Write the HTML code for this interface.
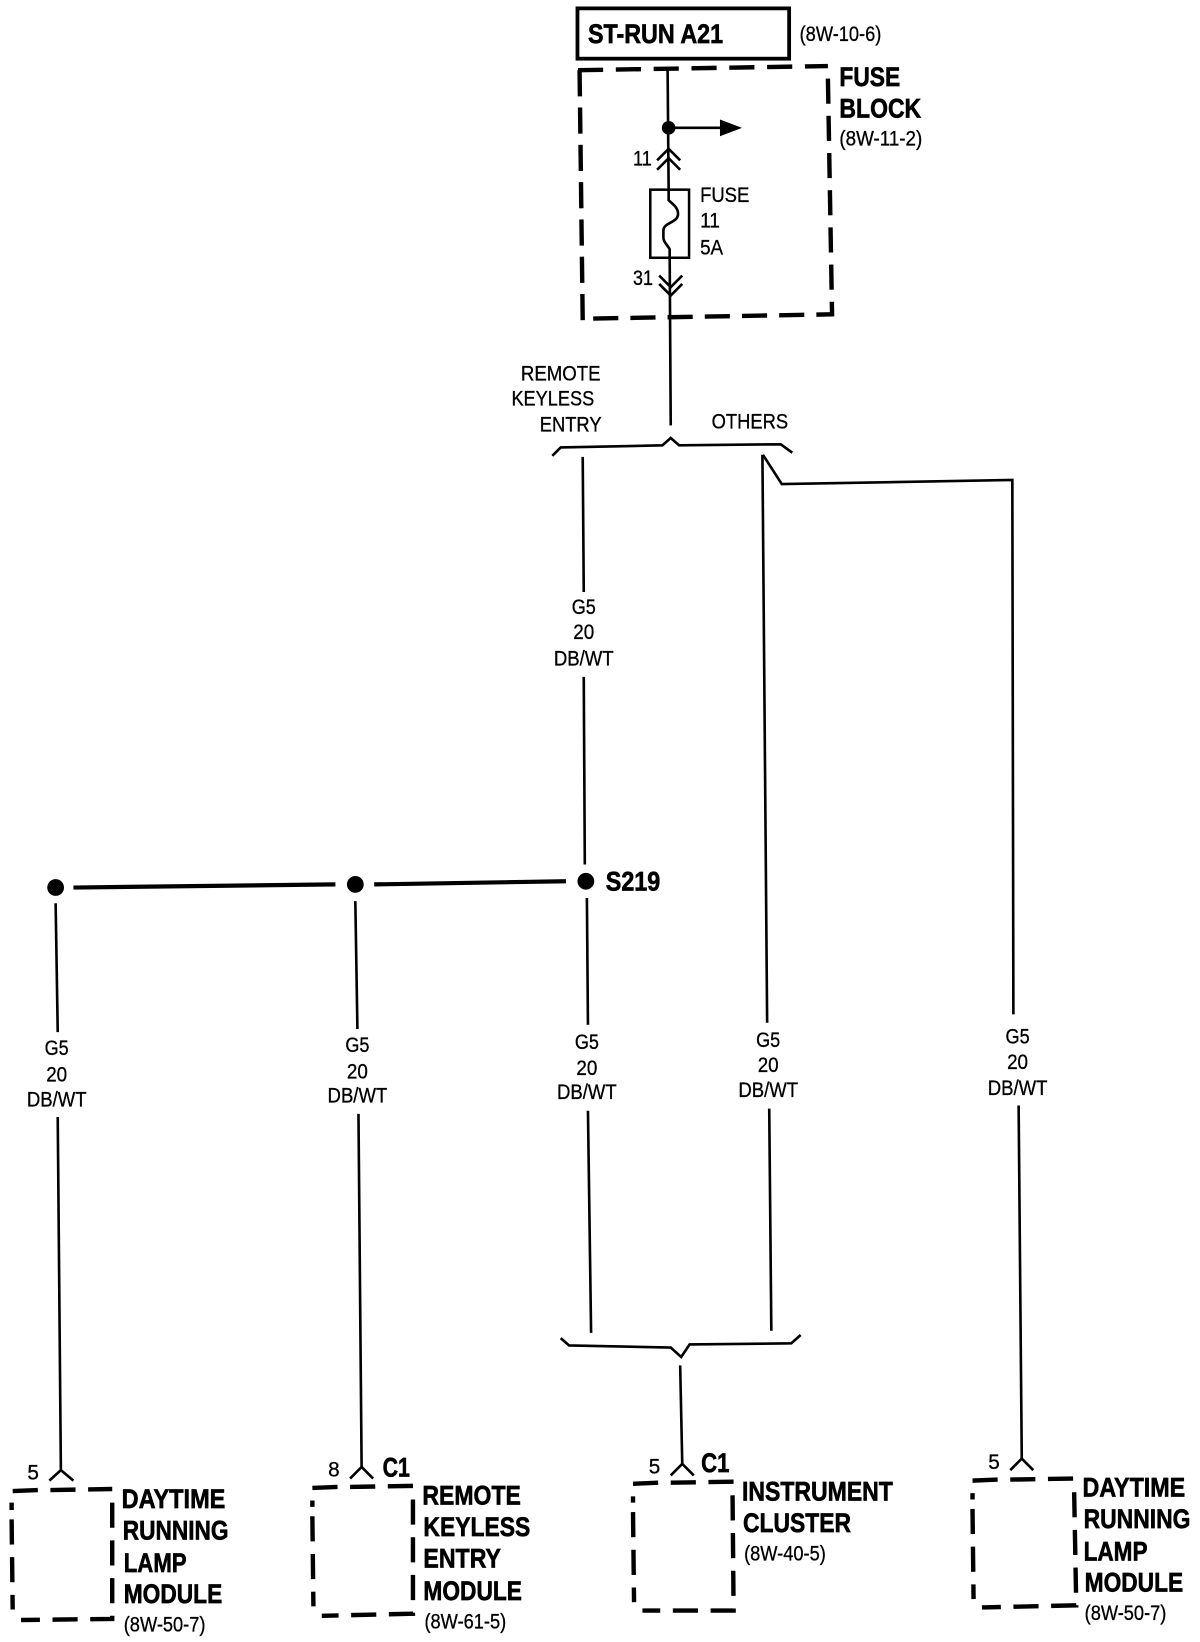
<!DOCTYPE html>
<html><head><meta charset="utf-8"><title>ST-RUN A21 wiring diagram</title>
<style>
html,body{margin:0;padding:0;background:#fff;width:1200px;height:1642px;overflow:hidden}
svg{display:block}
text{font-family:"Liberation Sans",sans-serif;fill:#000}
.b{font-weight:bold;font-size:26px;stroke:#000;stroke-width:.6}
.n{font-size:20px;stroke:#000;stroke-width:.3}
.w{fill:none;stroke:#000;stroke-width:2.5}
.d{fill:none;stroke:#000;stroke-width:4.2;stroke-dasharray:24 12}
</style></head><body>
<svg width="1200" height="1642" viewBox="0 0 1145 1567" xmlns="http://www.w3.org/2000/svg">
<rect x="551" y="8" width="202" height="48" fill="none" stroke="#000" stroke-width="3.6"/>
<text class="b" x="561" y="41" textLength="129" lengthAdjust="spacingAndGlyphs">ST-RUN A21</text>
<text class="n" x="763" y="39" textLength="78" lengthAdjust="spacingAndGlyphs">(8W-10-6)</text>

<path class="d" style="stroke-dasharray:24 12.100" d="M551.500 67 L790 63"/>
<path class="d" style="stroke-dasharray:25 10.600" d="M553 67 L556 306"/>
<path class="d" style="stroke-dasharray:24 11.500" d="M790 75 L794 302"/>
<path class="d" style="stroke-dasharray:24 11.500" d="M566 304 L794 300"/>
<text class="b" x="801" y="82" textLength="58" lengthAdjust="spacingAndGlyphs">FUSE</text>
<text class="b" x="801" y="112" textLength="78" lengthAdjust="spacingAndGlyphs">BLOCK</text>
<text class="n" x="801" y="139" textLength="79" lengthAdjust="spacingAndGlyphs">(8W-11-2)</text>

<path class="w" d="M637 65 L638 181"/>
<circle cx="638" cy="122" r="6.5"/>
<path class="w" d="M638 122 L692 122"/>
<path d="M687 114 L708 122 L687 130 Z"/>
<path class="w" d="M627 153 L638 142 L649 153 M627 162 L638 151 L649 162"/>
<text class="n" x="604" y="158" textLength="18" lengthAdjust="spacingAndGlyphs">11</text>
<rect x="620.500" y="181" width="37" height="65" fill="none" stroke="#000" stroke-width="2.400"/>
<path class="w" d="M638 181 L638 191 C642 195 647 198 647 204 C647 213 633 212 633 220 L633 227 C633 231 637 234 639 238 L639 246"/>
<text class="n" x="668" y="193" textLength="47" lengthAdjust="spacingAndGlyphs">FUSE</text>
<text class="n" x="668" y="217" textLength="19" lengthAdjust="spacingAndGlyphs">11</text>
<text class="n" x="668" y="243" textLength="22" lengthAdjust="spacingAndGlyphs">5A</text>
<path class="w" d="M639 246 L640 406"/>
<path class="w" d="M629 263 L640 274 L651 263 M629 271 L640 282 L651 271"/>
<text class="n" x="604" y="272" textLength="19" lengthAdjust="spacingAndGlyphs">31</text>

<text class="n" x="497" y="363" textLength="76" lengthAdjust="spacingAndGlyphs">REMOTE</text>
<text class="n" x="488" y="387" textLength="79" lengthAdjust="spacingAndGlyphs">KEYLESS</text>
<text class="n" x="515" y="412" textLength="59" lengthAdjust="spacingAndGlyphs">ENTRY</text>
<text class="n" x="679" y="409" textLength="73" lengthAdjust="spacingAndGlyphs">OTHERS</text>
<path class="w" d="M527 435 L535 427 L632 425 L640 418 L648 425 L745 424 L756 432"/>

<path class="w" d="M556 436 L557 565"/>
<text class="n" x="557" y="586" text-anchor="middle" textLength="23" lengthAdjust="spacingAndGlyphs">G5</text>
<text class="n" x="557" y="610" text-anchor="middle" textLength="20" lengthAdjust="spacingAndGlyphs">20</text>
<text class="n" x="557" y="635" text-anchor="middle" textLength="57" lengthAdjust="spacingAndGlyphs">DB/WT</text>
<path class="w" d="M557 646 L558 825"/>

<path class="w" d="M727.500 434 L732 976"/>
<path class="w" d="M728 434 L746 462 L966 458 L967 968"/>

<circle cx="53" cy="847" r="8"/><circle cx="339" cy="844" r="8"/><circle cx="559" cy="841" r="8"/>
<path fill="none" stroke="#000" stroke-width="4" d="M70 847 L320 844 M357 844 L540 841"/>
<text class="b" x="578" y="850" textLength="52" lengthAdjust="spacingAndGlyphs">S219</text>

<path class="w" d="M53 862 L55 985 M339 860 L341 982 M560 857 L561 978"/>

<text class="n" x="54" y="1007" text-anchor="middle" textLength="23" lengthAdjust="spacingAndGlyphs">G5</text>
<text class="n" x="54" y="1032" text-anchor="middle" textLength="20" lengthAdjust="spacingAndGlyphs">20</text>
<text class="n" x="54" y="1056" text-anchor="middle" textLength="57" lengthAdjust="spacingAndGlyphs">DB/WT</text>
<text class="n" x="341" y="1004" text-anchor="middle" textLength="23" lengthAdjust="spacingAndGlyphs">G5</text>
<text class="n" x="341" y="1029" text-anchor="middle" textLength="20" lengthAdjust="spacingAndGlyphs">20</text>
<text class="n" x="341" y="1052" text-anchor="middle" textLength="57" lengthAdjust="spacingAndGlyphs">DB/WT</text>
<text class="n" x="560" y="1001" text-anchor="middle" textLength="23" lengthAdjust="spacingAndGlyphs">G5</text>
<text class="n" x="560" y="1026" text-anchor="middle" textLength="20" lengthAdjust="spacingAndGlyphs">20</text>
<text class="n" x="560" y="1049" text-anchor="middle" textLength="57" lengthAdjust="spacingAndGlyphs">DB/WT</text>
<text class="n" x="733" y="999" text-anchor="middle" textLength="23" lengthAdjust="spacingAndGlyphs">G5</text>
<text class="n" x="733" y="1023" text-anchor="middle" textLength="20" lengthAdjust="spacingAndGlyphs">20</text>
<text class="n" x="733" y="1047" text-anchor="middle" textLength="57" lengthAdjust="spacingAndGlyphs">DB/WT</text>
<text class="n" x="971" y="996" text-anchor="middle" textLength="23" lengthAdjust="spacingAndGlyphs">G5</text>
<text class="n" x="971" y="1020" text-anchor="middle" textLength="20" lengthAdjust="spacingAndGlyphs">20</text>
<text class="n" x="971" y="1045" text-anchor="middle" textLength="57" lengthAdjust="spacingAndGlyphs">DB/WT</text>

<path class="w" d="M55 1066 L58 1403 M342 1063 L345 1400 M561 1060 L564 1272 M734 1058 L736 1270 M972 1055 L975 1392 M649 1303 L651 1397"/>
<path class="w" d="M535 1277 L543 1284 L640 1286 L650 1295 L658 1283 L755 1282 L764 1274"/>

<path class="w" d="M47 1413 L58 1403 L70 1413 M334 1411 L345 1400 L356 1411 M640 1408 L651 1397 L662 1408 M964 1403 L975 1392 L986 1403"/>
<text class="n" x="26" y="1412" textLength="11" lengthAdjust="spacingAndGlyphs">5</text>
<text class="n" x="313" y="1409" textLength="11" lengthAdjust="spacingAndGlyphs">8</text>
<text class="b" x="365" y="1409" textLength="26" lengthAdjust="spacingAndGlyphs">C1</text>
<text class="n" x="619" y="1406" textLength="11" lengthAdjust="spacingAndGlyphs">5</text>
<text class="b" x="669" y="1405" textLength="27" lengthAdjust="spacingAndGlyphs">C1</text>
<text class="n" x="943" y="1402" textLength="11" lengthAdjust="spacingAndGlyphs">5</text>

<path class="d" d="M36 1422 L11 1423 L11 1441"/>
<path class="d" d="M48 1422 L107 1421"/>
<path class="d" d="M107 1434 L107 1545 L20 1546"/>
<path class="d" d="M11 1450 L12 1536"/>

<path class="d" d="M322 1419 L298 1420 L298 1438"/>
<path class="d" d="M334 1419 L394 1418"/>
<path class="d" d="M394 1431 L394 1540 L307 1542"/>
<path class="d" d="M298 1447 L299 1533"/>

<path class="d" d="M628 1415 L604 1416 L604 1434"/>
<path class="d" d="M640 1415 L700 1414"/>
<path class="d" d="M699 1427 L700 1537 L613 1537"/>
<path class="d" d="M604 1443 L605 1529"/>

<path class="d" d="M952 1412 L928 1413 L928 1431"/>
<path class="d" d="M964 1412 L1026 1411"/>
<path class="d" d="M1025 1424 L1027 1532 L937 1534"/>
<path class="d" d="M928 1440 L929 1526"/>

<text class="b" x="116" y="1439" textLength="99" lengthAdjust="spacingAndGlyphs">DAYTIME</text>
<text class="b" x="117" y="1469" textLength="101" lengthAdjust="spacingAndGlyphs">RUNNING</text>
<text class="b" x="118" y="1500" textLength="60" lengthAdjust="spacingAndGlyphs">LAMP</text>
<text class="b" x="118" y="1530" textLength="94" lengthAdjust="spacingAndGlyphs">MODULE</text>
<text class="n" x="118" y="1557" textLength="78" lengthAdjust="spacingAndGlyphs">(8W-50-7)</text>

<text class="b" x="403" y="1436" textLength="94" lengthAdjust="spacingAndGlyphs">REMOTE</text>
<text class="b" x="404" y="1466" textLength="102" lengthAdjust="spacingAndGlyphs">KEYLESS</text>
<text class="b" x="404" y="1496" textLength="74" lengthAdjust="spacingAndGlyphs">ENTRY</text>
<text class="b" x="404" y="1527" textLength="94" lengthAdjust="spacingAndGlyphs">MODULE</text>
<text class="n" x="405" y="1554" textLength="78" lengthAdjust="spacingAndGlyphs">(8W-61-5)</text>

<text class="b" x="708" y="1432" textLength="144" lengthAdjust="spacingAndGlyphs">INSTRUMENT</text>
<text class="b" x="709" y="1462" textLength="103" lengthAdjust="spacingAndGlyphs">CLUSTER</text>
<text class="n" x="710" y="1489" textLength="78" lengthAdjust="spacingAndGlyphs">(8W-40-5)</text>

<text class="b" x="1033" y="1428" textLength="98" lengthAdjust="spacingAndGlyphs">DAYTIME</text>
<text class="b" x="1034" y="1458" textLength="102" lengthAdjust="spacingAndGlyphs">RUNNING</text>
<text class="b" x="1034" y="1489" textLength="61" lengthAdjust="spacingAndGlyphs">LAMP</text>
<text class="b" x="1035" y="1519" textLength="94" lengthAdjust="spacingAndGlyphs">MODULE</text>
<text class="n" x="1035" y="1546" textLength="78" lengthAdjust="spacingAndGlyphs">(8W-50-7)</text>
</svg>
</body></html>
